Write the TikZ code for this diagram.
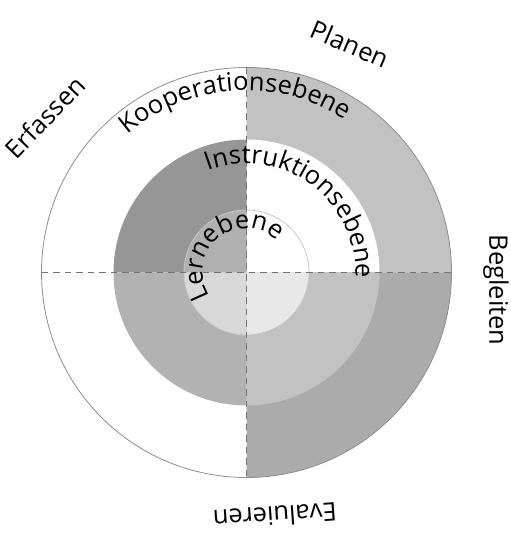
\documentclass[tikz,border=0pt]{standalone}
\usepackage{fontspec}
\setmainfont{Open Sans}
\usepackage{tikz}
\usetikzlibrary{decorations.text}

\newcommand{\lbl}{\fontsize{25.5}{30}\selectfont}
\colorlet{koopNE}{black!24}
\colorlet{koopSE}{black!33}
\colorlet{instNW}{black!41}
\colorlet{instSW}{black!30}
\colorlet{instSE}{black!24}
\colorlet{lernNW}{black!31}
\colorlet{lernSW}{black!15}
\colorlet{lernSE}{black!9}

\begin{document}
\begin{tikzpicture}[x=1pt,y=1pt,
  quarter line/.style={draw=black!55,dash pattern=on 6.5pt off 5pt,line width=1.1pt},
  phase/.style={font=\lbl,inner sep=0pt},
  ring text/.style={decorate,decoration={text along path,text align=center,text={|\lbl|#1}}}]
  \useasboundingbox (0,0) rectangle (511,533);
  \coordinate (c) at (246.5,260.5);

  \fill[koopNE] (c) -- ++(0:205pt) arc (0:90:205pt) -- cycle;
  \fill[koopSE] (c) -- ++(270:205pt) arc (270:360:205pt) -- cycle;
  \foreach \a/\col in {0/white, 90/instNW, 180/instSW, 270/instSE}
    \fill[\col] (c) -- ++(\a:133pt) arc (\a:\a+90:133pt) -- cycle;
  \foreach \a/\col in {0/white, 90/lernNW, 180/lernSW, 270/lernSE}
    \fill[\col] (c) -- ++(\a:62.5pt) arc (\a:\a+90:62.5pt) -- cycle;
  \draw[black!45,line width=0.8pt] (c) circle (205pt);
  \draw[black!22,line width=0.8pt] (c) circle (62.5pt);

  \coordinate (w) at ([shift={(180:205pt)}]c);
  \coordinate (e) at ([shift={(0:205pt)}]c);
  \coordinate (n) at ([shift={(90:205pt)}]c);
  \coordinate (s) at ([shift={(270:205pt)}]c);
  \draw[quarter line] (w) -- (e);
  \draw[quarter line] (n) -- (s);

  \path[ring text=Kooperationsebene] ([shift={(184:182pt)}]c) arc (184:4:182pt);
  \path[ring text=Instruktionsebene] ([shift={(160:109pt)}]c) arc (160:-52:109pt);
  \path[ring text=Lernebene] ([shift={(219.7:44pt)}]c) arc (219.7:39.7:44pt);

  \node[phase,rotate=46] (erfassen) at (45,416) {Erfassen};
  \node[phase,rotate=-23] (planen) at (350,489) {Planen};
  \node[phase,rotate=-90] (begleiten) at (496,243) {Begleiten};
  \node[phase,rotate=184] (evaluieren) at (275,17) {Evaluieren};
\end{tikzpicture}
\end{document}
